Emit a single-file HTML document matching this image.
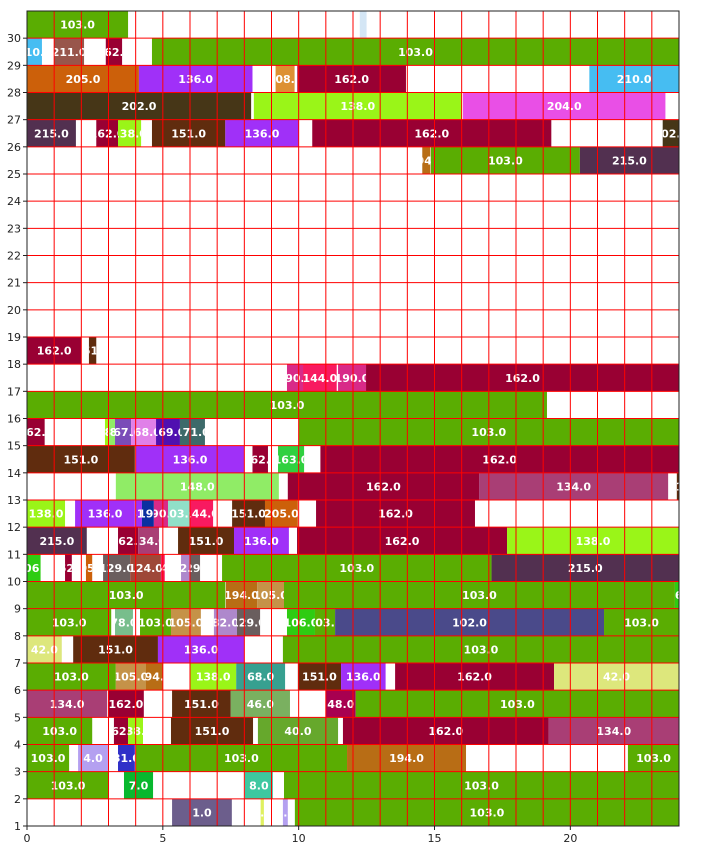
<!DOCTYPE html>
<html><head><meta charset="utf-8">
<style>
html,body{margin:0;padding:0;background:#fff;}
svg{display:block;font-family:"DejaVu Sans","Liberation Sans",sans-serif;}
</style></head>
<body>
<svg id="chart" width="701" height="850" viewBox="0 0 701 850" xmlns="http://www.w3.org/2000/svg">
<defs id="defs"></defs>
<g id="bars"></g>
<g id="grid"></g>
<g id="axes"></g>
</svg>
<script>
const barRow   = [30,30, 29,29,29,29, 28,28,28,28,28, 27,27,27, 26,26,26,26,26,26,26, 25,25,25, 18,18, 17,17,17,17, 16,
 15,15,15,15,15,15,15,15, 14,14,14,14,14, 13,13,13,13, 12,12,12,12,12,12,12,12,12,12,
 11,11,11,11,11,11,11, 10,10,10,10,10,10,10,10,10,10, 9,9,9,9,9, 8,8,8,8,8,8,8,8,8,8,
 7,7,7,7, 6,6,6,6,6,6,6,6,6, 5,5,5,5,5,5, 4,4,4,4,4,4,4, 3,3,3,3,3,3, 2,2,2,2, 1,1,1,1];
const barStart = [0,12.25, 0,1.0,2.9,4.6, 0,4.12,9.15,9.95,20.7, 0,8.35,16.05, 0,2.55,3.35,4.6,7.3,10.5,23.4, 14.55,14.87,20.35, 0,2.28, 9.57,10.16,11.45,12.48, 0,
 0,2.87,3.0,3.24,3.83,4.75,5.63,10.0, 0,4.0,8.3,9.24,10.8, 3.27,9.6,16.64,23.92, 0,1.77,4.0,4.23,4.67,5.19,6.0,7.55,8.76,10.64,
 0,3.35,4.09,5.56,7.62,9.94,17.67, 0,1.4,2.17,2.8,3.8,4.93,5.67,6.0,7.18,17.1, 0,7.32,8.47,9.46,23.85, 0,3.24,4.16,5.3,6.88,7.73,9.57,10.6,11.34,21.24,
 0,1.7,4.82,9.42, 0,3.27,4.38,6.0,7.7,9.97,11.56,13.55,19.4, 0,2.98,5.34,7.5,11.0,12.1, 0,3.2,3.72,5.3,8.5,11.63,19.2, 0,1.88,3.35,4.0,11.78,22.12, 0,3.57,8.02,9.46, 5.34,8.6,9.42,9.86];
const barEnd   = [3.72,12.5, 0.55,2.1,3.5,24, 4.12,8.3,9.85,13.95,24, 8.25,16.0,23.5, 1.8,3.35,4.2,7.3,10.0,19.3,24, 14.85,20.35,24, 2.0,2.55, 10.16,11.4,12.48,24, 19.14,
 0.65,3.0,3.24,3.83,4.75,5.63,6.55,24, 3.97,8.0,8.87,10.2,24, 9.27,16.64,23.6,24, 1.4,3.97,4.23,4.67,5.19,6.0,6.85,8.76,9.97,16.49,
 2.2,4.09,4.86,7.62,9.64,17.67,24, 0.5,1.65,2.4,3.8,4.93,5.07,6.0,6.37,17.1,24, 7.3,8.47,9.46,23.85,24, 3.1,3.9,5.3,6.4,7.73,8.58,10.6,11.34,21.24,24,
 1.28,4.82,8.0,24, 3.27,4.38,5.0,7.7,9.5,11.56,13.2,19.4,24, 2.95,4.3,7.5,9.68,12.1,24, 2.4,3.72,4.27,8.32,11.45,19.2,24, 1.55,2.98,3.97,11.78,16.16,24, 3.02,4.64,9.05,24, 7.54,8.72,9.6,24];
const barValue = [103,0, 210,211,162,103, 205,136,208,162,210, 202,138,204, 215,162,138,151,136,162,202, 194,103,215, 162,151, 190,144,190,162, 103,
 162,138,148,167,168,169,171,103, 151,136,162,163,162, 148,162,134,151, 138,136,141,119,190,103.1,144,151,205,162,
 215,162,134,151,136,162,138, 106,162,205,129,124,144,82,129,103,215, 103,194,105,103,106, 103,78,103,105,82,129,106,103,102,103,
 42,151,136,103, 103,105,194,138,68,151,136,162,42, 134,162,151,46,48,103, 103,162,138,151,40,162,134, 103,4,31,103,194,103, 103,7,8,103, 1,2,3,103];
const xTicks = [0,5,10,15,20];
const yTicks = [1,2,3,4,5,6,7,8,9,10,11,12,13,14,15,16,17,18,19,20,21,22,23,24,25,26,27,28,29,30];

const colorOf = {0:'#d4e6f5',103:'#5aad02',103.1:'#90e0c8',162:'#990033',136:'#a030f8',151:'#602c0e',215:'#523050',138:'#9af518',202:'#463617',204:'#e94fe6',205:'#cc600a',210:'#46bdf2',211:'#98564b',208:'#dd9033',134:'#a93e75',148:'#90ec66',194:'#b86d15',105:'#c59248',102:'#4a4a8a',42:'#dde77c',68:'#37a090',46:'#7ab060',48:'#a80050',40:'#66a82c',4:'#b4a0f0',31:'#3030c8',7:'#08b82e',8:'#3ec8a0',1:'#6c5e8c',2:'#e0f060',3:'#b4a0f0',106:'#2ecc12',78:'#78be8c',82:'#ae88cc',129:'#6a5e5e',163:'#30d040',169:'#5010b0',171:'#3d6a6a',168:'#e080e8',167:'#7a4cb8',190:'#d82a88',144:'#f81a60',124:'#9e4838',119:'#0a30a0',141:'#a030f8'};

const L=27,R=679,T=11,B=826, XMIN=0,XMAX=24,YMIN=1,YMAX=31;
const sx=v=>L+(v-XMIN)/(XMAX-XMIN)*(R-L);
const sy=v=>B-(v-YMIN)/(YMAX-YMIN)*(B-T);
const NS='http://www.w3.org/2000/svg';
function mk(tag,attrs){const e=document.createElementNS(NS,tag);for(const k in attrs)e.setAttribute(k,attrs[k]);return e;}
const defs=document.getElementById('defs'), gb=document.getElementById('bars'), gg=document.getElementById('grid'), ga=document.getElementById('axes');

for(let i=0;i<barRow.length;i++){
  const x0=sx(barStart[i]), x1=sx(barEnd[i]), y0=sy(barRow[i]+1), y1=sy(barRow[i]);
  const cp=mk('clipPath',{id:'c'+i});
  cp.appendChild(mk('rect',{x:x0,y:y0,width:Math.max(0,x1-x0),height:y1-y0}));
  defs.appendChild(cp);
  const r=mk('rect',{x:x0,y:y0,width:Math.max(0,x1-x0),height:y1-y0,fill:colorOf[barValue[i]]||'#888'});
  
  
  gb.appendChild(r);
  if(barValue[i]>0){
    const v=Math.floor(barValue[i]);
    const t=mk('text',{x:(x0+x1)/2,y:(y0+y1)/2+4,'text-anchor':'middle','font-size':'11','font-weight':'bold',fill:'#ffffff','clip-path':'url(#c'+i+')'});
    t.textContent=v.toFixed(1);
    
    
    gb.appendChild(t);
  }
}
for(let v=XMIN+1;v<XMAX;v++){
  const l=mk('line',{x1:sx(v),x2:sx(v),y1:T,y2:B,stroke:'#ff0000','stroke-width':1});
  
  
  gg.appendChild(l);
}
for(let v=YMIN+1;v<YMAX;v++){
  const l=mk('line',{x1:L,x2:R,y1:sy(v),y2:sy(v),stroke:'#ff0000','stroke-width':1});
  
  
  gg.appendChild(l);
}
const frame=mk('rect',{x:L,y:T,width:R-L,height:B-T,fill:'none',stroke:'#222','stroke-width':1});


ga.appendChild(frame);
xTicks.forEach(v=>{
  const l=mk('line',{x1:sx(v),x2:sx(v),y1:B,y2:B+4,stroke:'#222'});
  
  
  ga.appendChild(l);
  const t=mk('text',{x:sx(v),y:B+16,'text-anchor':'middle','font-size':'11',fill:'#222'});
  t.textContent=v;
  
  
  ga.appendChild(t);
});
yTicks.forEach(v=>{
  const l=mk('line',{x1:L-4,x2:L,y1:sy(v),y2:sy(v),stroke:'#222'});
  
  
  ga.appendChild(l);
  const t=mk('text',{x:L-6,y:sy(v)+4,'text-anchor':'end','font-size':'11',fill:'#222'});
  t.textContent=v;
  
  
  ga.appendChild(t);
});
</script>
</body></html>
